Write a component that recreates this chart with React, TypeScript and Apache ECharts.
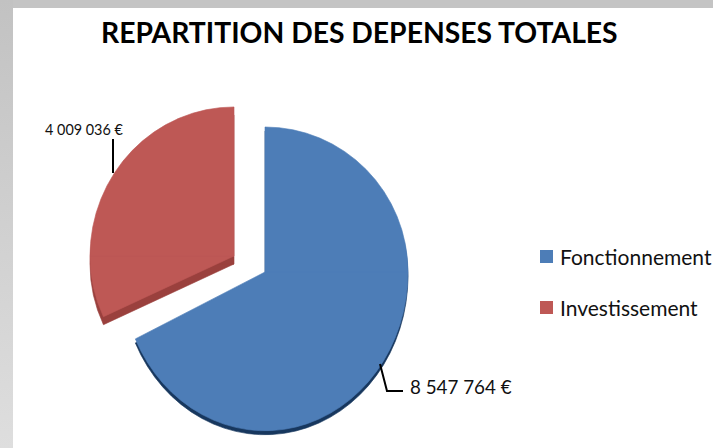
import React, { useEffect, useRef } from "react";
import * as echarts from "echarts";

const titleText = "REPARTITION DES DEPENSES TOTALES";
const categories = ["Fonctionnement", "Investissement"];
const values = [8547764, 4009036];
const valueLabels = ["8 547 764 €", "4 009 036 €"];
const faceColors = ["#4d7db7", "#be5855"];
const depthColors = ["#17375e", "#9a403d"];
const total = values.reduce((a, b) => a + b, 0);
const startDeg = -90;

const sliceGeometry = [
  { cx: 265, cy: 272, r: 143, topScale: 1.014, bottomScale: 1.11, depth: 4, labelX: 410, labelY: 386, fontSize: 18.8, leader: [[380, 364], [387, 391], [403, 391]] },
  { cx: 234, cy: 256, r: 144, topScale: 1.035, bottomScale: 1.0, depth: 8, labelX: 45, labelY: 129, fontSize: 14.4, leader: [[113, 139], [113, 173]] },
];

function sectorParts(i: number, from: number, to: number, color: string, dy: number) {
  const g = sliceGeometry[i];
  const bounds = [from, to];
  [0, 180, 360].forEach((b) => { if (b > from && b < to) bounds.push(b); });
  bounds.sort((a, b) => a - b);
  const parts: any[] = [];
  for (let k = 0; k < bounds.length - 1; k++) {
    const a = bounds[k];
    const b = bounds[k + 1];
    const mid = (((a + b) / 2) % 360 + 360) % 360;
    const lower = mid < 180;
    parts.push({
      type: "sector",
      x: g.cx,
      y: g.cy + dy,
      scaleY: lower ? g.bottomScale : g.topScale,
      shape: { cx: 0, cy: 0, r: g.r, r0: 0, startAngle: (a * Math.PI) / 180, endAngle: (b * Math.PI) / 180, clockwise: true },
      style: { fill: color, stroke: color, lineWidth: 0.6 },
    });
  }
  return parts;
}

function sliceRenderer(i: number) {
  const before = values.slice(0, i).reduce((a, b) => a + b, 0);
  const from = startDeg + (before / total) * 360;
  const to = from + (values[i] / total) * 360;
  return () => {
    const g = sliceGeometry[i];
    return {
      type: "group",
      children: [
        ...sectorParts(i, from, to, depthColors[i], g.depth),
        ...sectorParts(i, from, to, faceColors[i], 0),
        {
          type: "polyline",
          shape: { points: g.leader },
          style: { stroke: "#000", lineWidth: 2, fill: "none" },
        },
        {
          type: "text",
          x: g.labelX,
          y: g.labelY,
          style: { text: valueLabels[i], fill: "#111", fontFamily: "Lato", fontSize: g.fontSize, align: "left", verticalAlign: "middle" },
        },
      ],
    };
  };
}

export default function App() {
  const ref = useRef<HTMLDivElement>(null);
  useEffect(() => {
    document.body.style.margin = "0";
    const chart = echarts.init(ref.current!, null, { renderer: "svg" });
    chart.setOption({
      animation: false,
      backgroundColor: "#fff",
      title: {
        text: titleText,
        left: 96,
        top: 13,
        textStyle: { fontFamily: "Lato", fontWeight: "bold", fontSize: 28.3, color: "#000" },
      },
      legend: {
        left: 535,
        top: 241,
        orient: "vertical",
        icon: "rect",
        itemWidth: 13,
        itemHeight: 13,
        itemGap: 30,
        selectedMode: false,
        data: categories,
        textStyle: { fontFamily: "Lato", fontSize: 21, color: "#111", padding: [0, 0, 0, 2] },
      },
      graphic: [
        { type: "rect", left: 0, top: 0, shape: { width: 713, height: 8 }, style: { fill: "#c4c4c4" } },
        {
          type: "rect", left: 0, top: 0, shape: { width: 13, height: 448 },
          style: {
            fill: new echarts.graphic.LinearGradient(0, 0, 0, 1, [
              { offset: 0, color: "#c2c2c2" },
              { offset: 1, color: "#dedede" },
            ]),
          },
        },
      ],
      series: categories.map((name, i) => ({
        type: "custom",
        name,
        coordinateSystem: "none",
        silent: true,
        itemStyle: { color: faceColors[i] },
        data: [values[i]],
        renderItem: sliceRenderer(i),
      })),
    });
    return () => chart.dispose();
  }, []);
  return <div ref={ref} style={{ width: 713, height: 448 }} />;
}
